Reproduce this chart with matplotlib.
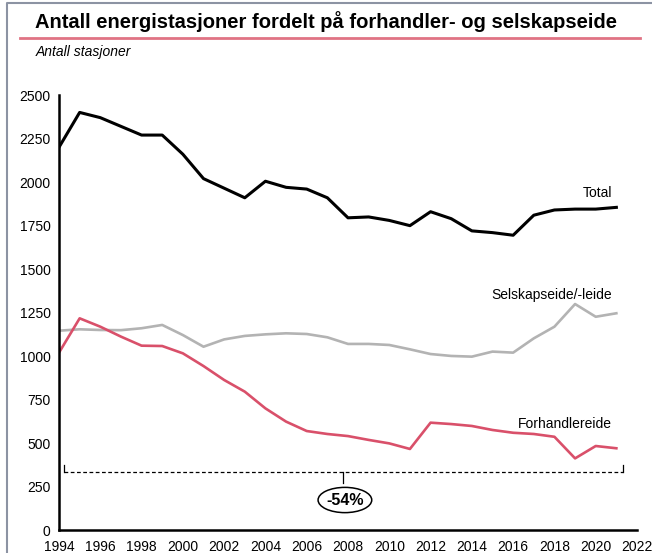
import matplotlib.pyplot as plt
import numpy as np
from matplotlib.patches import Ellipse
from matplotlib.lines import Line2D

years = list(range(1994, 2022))

total = [2200, 2400, 2370, 2320, 2270, 2270, 2160, 2020, 1965, 1910,
         2005, 1970, 1960, 1910, 1795, 1800, 1780, 1750, 1830, 1790,
         1720, 1710, 1695, 1810, 1840, 1845, 1845, 1855]

selskap = [1147, 1155, 1151, 1150, 1161, 1180, 1122, 1055, 1097, 1117,
           1126, 1132, 1128, 1109, 1071, 1071, 1065, 1040, 1013, 1002,
           998, 1027, 1021, 1103, 1170, 1300, 1227, 1247]

forhandler = [1021, 1218, 1170, 1113, 1061, 1059, 1017, 944, 864, 797,
              701, 625, 571, 554, 542, 520, 500, 468, 619, 611,
              600, 577, 561, 554, 538, 414, 485, 472]

yticks = [0, 250, 500, 750, 1000, 1250, 1500, 1750, 2000, 2250, 2500]
xticks = list(range(1994, 2023, 2))

plt.rcParams['font.family'] = ['Liberation Sans', 'DejaVu Sans']

fig = plt.figure(figsize=(6.52, 5.53), dpi=100)
ax = fig.add_axes([0.0905, 0.0407, 0.8865, 0.7875])

ax.plot(years, total, color="black", lw=2.2, solid_joinstyle="round")
ax.plot(years, selskap, color="#b3b3b3", lw=1.9, solid_joinstyle="round")
ax.plot(years, forhandler, color="#d9506a", lw=1.9, solid_joinstyle="round")

ax.set_xlim(1994, 2022)
ax.set_ylim(0, 2500)
ax.set_xticks(xticks)
ax.set_yticks(yticks)
ax.tick_params(length=0, labelsize=10)
ax.tick_params(axis="y", pad=6)
ax.tick_params(axis="x", pad=6.5)
for s in ["top", "right"]:
    ax.spines[s].set_visible(False)
ax.spines["left"].set_linewidth(1.8)
ax.spines["bottom"].set_linewidth(1.8)

# series labels
ax.text(2020.8, 1937, "Total", ha="right", va="center", fontsize=10)
ax.text(2020.8, 1352, "Selskapseide/-leide", ha="right", va="center", fontsize=10)
ax.text(2020.8, 611, "Forhandlereide", ha="right", va="center", fontsize=10)

# change bracket
ax.plot([1994.25, 2021.3], [334, 334], color="black", lw=0.9, ls=(0, (3, 2)))
ax.plot([1994.25, 1994.25], [334, 375], color="black", lw=0.9)
ax.plot([2021.3, 2021.3], [334, 375], color="black", lw=0.9)
ax.plot([2007.75, 2007.75], [334, 270], color="black", lw=0.9)
ax.add_patch(Ellipse((2007.85, 175), 2.6, 145, fill=False, ec="black", lw=1.1))
ax.text(2007.85, 175, "-54%", ha="center", va="center", fontsize=11.5,
        fontweight="bold")

# title, rule and subtitle
fig.text(0.054, 0.962, "Antall energistasjoner fordelt på forhandler- og selskapseide",
         ha="left", va="center", fontsize=14.5, fontweight="bold")
fig.add_artist(Line2D([0.031, 0.982], [0.931, 0.931], color="#e07384", lw=2,
                      transform=fig.transFigure))
fig.text(0.054, 0.906, "Antall stasjoner", ha="left", va="center",
         fontsize=10, style="italic")

# outer frame
fig.add_artist(Line2D([0.010, 0.010, 1.0], [0.0, 0.994, 0.994], color="#8c93a3",
                      lw=1.5, transform=fig.transFigure))

fig.savefig("out.png", dpi=100)
